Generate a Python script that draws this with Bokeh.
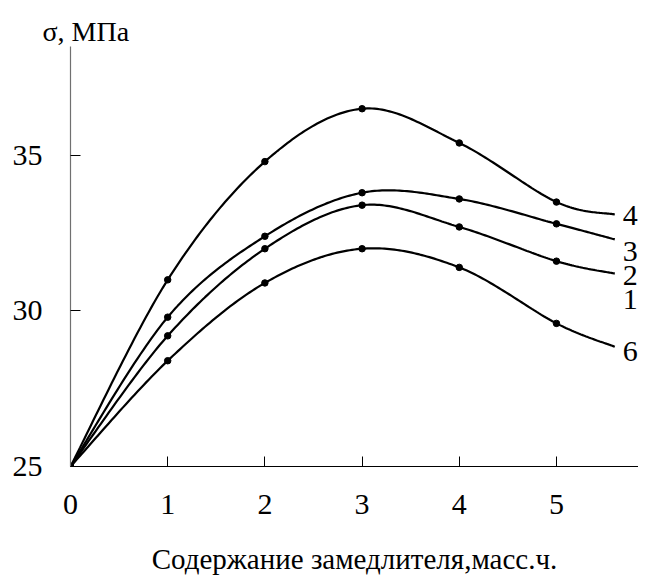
import numpy as np
from bokeh.plotting import figure
from bokeh.models import Range1d, FixedTicker
from bokeh.core.properties import value
from bokeh.embed import file_html
from bokeh.resources import INLINE

# ---- data ----
x_points = [0, 1, 2, 3, 4, 5]
x_tail = 5.6
curve_4 = [25.0, 31.0, 34.8, 36.5, 35.4, 33.5]
curve_4_tail = 33.1
curve_3 = [25.0, 29.8, 32.4, 33.8, 33.6, 32.8]
curve_3_tail = 32.3
curve_2 = [25.0, 29.2, 32.0, 33.4, 32.7, 31.6]
curve_2_tail = 31.2
curve_6 = [25.0, 28.4, 30.9, 32.0, 31.4, 29.6]
curve_6_tail = 28.85

curve_labels = ["4", "3", "2", "1", "6"]
x_ticks = [0, 1, 2, 3, 4, 5]
y_ticks = [25, 30, 35]

# annotation layout (not data)
label_x = 5.76
label_y = [33.07, 31.91, 31.14, 30.38, 28.71]

FONT = "Liberation Serif"


def catmull_rom(xs, ys, n=40):
    P = np.column_stack([xs, ys]).astype(float)
    P = np.vstack([P[0], P, P[-1]])
    out = []
    for i in range(1, len(P) - 2):
        p0, p1, p2, p3 = P[i - 1], P[i], P[i + 1], P[i + 2]
        t = np.linspace(0, 1, n)[:, None]
        seg = 0.5 * ((2 * p1) + (-p0 + p2) * t + (2 * p0 - 5 * p1 + 4 * p2 - p3) * t ** 2
                     + (-p0 + 3 * p1 - 3 * p2 + p3) * t ** 3)
        out.append(seg if i == 1 else seg[1:])
    out = np.vstack(out)
    return out[:, 0], out[:, 1]


p = figure(width=638, height=577, output_backend="svg", toolbar_location=None,
           x_range=Range1d(0, 5.844), y_range=Range1d(25, 38.5),
           min_border_left=70, min_border_right=0, min_border_top=46, min_border_bottom=110)
p.outline_line_color = None
p.grid.visible = False
p.background_fill_color = "white"
p.border_fill_color = "white"

# y-axis caption as the figure title
p.title.text = "σ, МПа"
p.title.align = "left"
p.title.offset = -28
p.title.standoff = 0
p.title.text_font = FONT
p.title.text_font_size = "28px"
p.title.text_font_style = "normal"
p.title.text_color = "black"

for ys, tail in [(curve_4, curve_4_tail), (curve_3, curve_3_tail),
                 (curve_2, curve_2_tail), (curve_6, curve_6_tail)]:
    sx, sy = catmull_rom(x_points + [x_tail], ys + [tail])
    p.line(sx, sy, line_color="black", line_width=2.2)
    p.scatter(x_points, ys, size=6.5, color="black")

p.text(x=[label_x] * len(curve_labels), y=label_y, text=curve_labels,
       text_font=value(FONT), text_font_size="30px", text_color="black",
       text_align="center", text_baseline="middle")

# axes
xa = p.xaxis[0]
xa.ticker = FixedTicker(ticks=x_ticks)
xa.axis_line_color = "black"
xa.axis_line_width = 1.2
xa.major_tick_in = 10
xa.major_tick_out = 0
xa.minor_tick_line_color = None
xa.major_tick_line_color = "black"
xa.major_label_text_font = FONT
xa.major_label_text_font_size = "30px"
xa.major_label_text_color = "black"
xa.major_label_standoff = 28
xa.axis_label = "Содержание замедлителя,масс.ч."
xa.axis_label_text_font = FONT
xa.axis_label_text_font_size = "29px"
xa.axis_label_text_font_style = "normal"
xa.axis_label_text_color = "black"
xa.axis_label_standoff = 26

ya = p.yaxis[0]
ya.ticker = FixedTicker(ticks=y_ticks)
ya.axis_line_color = "#707070"
ya.axis_line_width = 1.2
ya.major_tick_in = 10
ya.major_tick_out = 0
ya.minor_tick_line_color = None
ya.major_tick_line_color = "black"
ya.major_label_text_font = FONT
ya.major_label_text_font_size = "30px"
ya.major_label_text_color = "black"
ya.major_label_standoff = 28

open("out.html", "w").write(file_html(p, INLINE))
